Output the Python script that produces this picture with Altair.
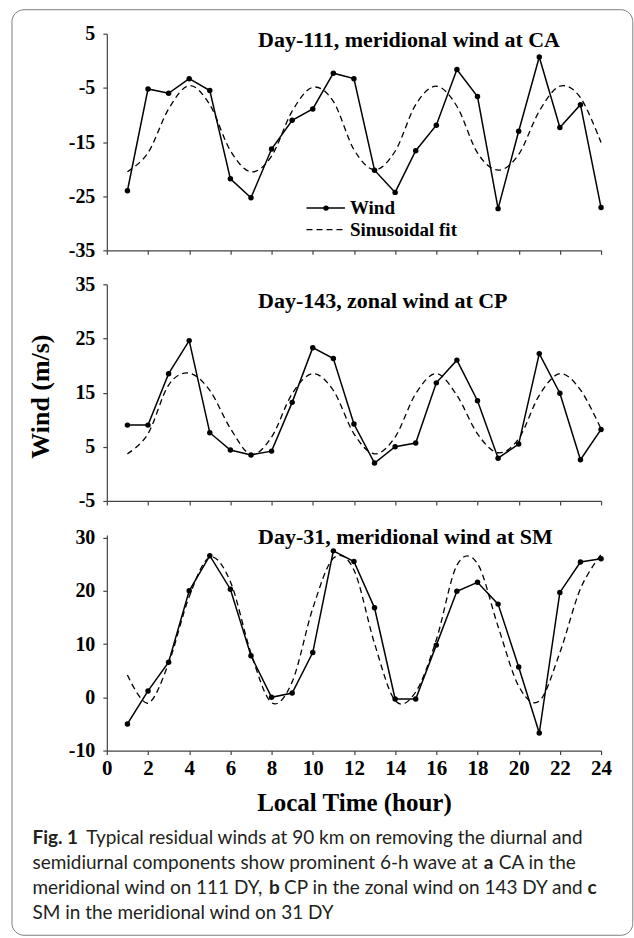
import altair as alt
import pandas as pd

# Local time (hour) of each hourly estimate
hours = list(range(1, 25))

# Day-111, meridional wind at CA (m/s)
ca_wind = [-24.0, -5.2, -6.0, -3.3, -5.5, -21.8, -25.3, -16.3, -11.0, -8.9, -2.3, -3.3,
           -20.2, -24.3, -16.6, -11.9, -1.6, -6.6, -27.3, -13.0, 0.7, -12.3, -8.1, -27.1]
ca_fit = [-20.5, -17.0, -8.9, -4.6, -8.1, -16.6, -20.5, -17.6, -9.3, -4.9, -7.5, -16.4,
          -20.1, -16.7, -8.1, -4.7, -8.4, -17.0, -20.2, -17.3, -9.3, -4.7, -6.8, -15.1]

# Day-143, zonal wind at CP (m/s)
cp_wind = [9.0, 9.0, 18.5, 24.6, 7.6, 4.4, 3.5, 4.2, 13.2, 23.3, 21.3, 9.2,
           2.0, 5.0, 5.7, 16.8, 21.0, 13.5, 2.9, 5.5, 22.2, 14.9, 2.6, 8.2]
cp_fit = [3.7, 7.4, 16.4, 18.6, 15.4, 8.4, 3.6, 6.8, 14.8, 18.5, 15.4, 7.4,
          3.7, 6.8, 14.8, 18.5, 14.5, 7.4, 3.9, 6.5, 14.5, 18.5, 15.5, 8.3]

# Day-31, meridional wind at SM (m/s)
sm_wind = [-5.0, 1.2, 6.6, 20.0, 26.6, 20.3, 7.8, 0.0, 0.8, 8.4, 27.5, 25.5,
           16.8, -0.3, -0.3, 9.8, 19.9, 21.6, 17.5, 5.7, -6.7, 19.7, 25.4, 26.0]
sm_fit = [4.2, -1.1, 6.4, 18.9, 26.3, 21.7, 8.3, -1.0, 2.9, 16.7, 26.1, 23.9,
          10.1, -0.6, 1.0, 10.8, 24.8, 25.1, 13.3, 2.1, -0.7, 8.4, 20.4, 26.8]

SERIF = "Liberation Serif"
SANS = "Lato"
INK = "#000000"
CAP_INK = "#231f20"
AXIS_INK = "#444444"
PLOT_W = 495
CAP_SIZE = 19


def one_row():
    return alt.Chart(alt.Data(values=[{}]))


def label_text(text, x, y, size, weight="bold", font=SERIF, align="left", color=INK):
    return one_row().mark_text(
        align=align, baseline="alphabetic", font=font, fontSize=size,
        fontWeight=weight, color=color,
    ).encode(x=alt.value(x), y=alt.value(y), text=alt.value(text))


def caption(text, x, y, bold=False):
    return label_text(text, x, y, CAP_SIZE, weight="bold" if bold else "normal",
                      font=SANS, color=CAP_INK)


# plain hyphen instead of the typographic minus sign
HYPHEN = "replace(datum.label, '\u2212', '-')"


def panel(wind, fit, y_domain, y_top_label, height, title, title_y,
          x_labels=False, y_title="", extra_layers=()):
    df = pd.DataFrame({"hour": hours, "wind": wind, "fit": fit})

    x_axis = dict(values=list(range(0, 25)), tickSize=4, labelFlush=False,
                  labelOverlap=False)
    if x_labels:
        x_axis.update(labels=True, labelPadding=3, labelFontSize=21,
                      labelExpr="datum.value % 2 == 0 ? datum.label : ''",
                      titleFontSize=25, titleBaseline="alphabetic", titleY=60)
        x_title = "Local Time (hour)"
    else:
        x_axis.update(labels=False)
        x_title = ""

    y_vals = list(range(int(y_domain[0]), int(y_domain[1]) + 1, 5))
    y_axis = dict(values=y_vals, tickSize=4, labelPadding=8, labelFlush=False,
                  labelOverlap=False, labelFontSize=20,
                  labelExpr=f"({y_top_label} - datum.value) % 10 == 0 ? {HYPHEN} : ''")
    if y_title:
        y_axis.update(titleFontSize=26, titleX=-66, titleY=112,
                      titleBaseline="middle", titleAngle=270)

    xs = alt.Scale(domain=[0, 24], nice=False, zero=False)
    ys = alt.Scale(domain=list(y_domain), nice=False, zero=False)

    base = alt.Chart(df)
    fit_line = base.mark_line(
        color=INK, strokeWidth=1.3, strokeDash=[6, 4], interpolate="cardinal"
    ).encode(
        x=alt.X("hour:Q", scale=xs, axis=alt.Axis(**x_axis), title=x_title),
        y=alt.Y("fit:Q", scale=ys, axis=alt.Axis(**y_axis), title=y_title),
    )
    wind_line = base.mark_line(color=INK, strokeWidth=1.5).encode(
        x=alt.X("hour:Q", scale=xs, title=x_title),
        y=alt.Y("wind:Q", scale=ys, title=y_title),
    )
    wind_pts = base.mark_point(filled=True, color=INK, size=30, opacity=1).encode(
        x=alt.X("hour:Q", scale=xs, title=x_title),
        y=alt.Y("wind:Q", scale=ys, title=y_title),
    )
    head = label_text(title, 151.5, title_y, 22)
    return alt.layer(*extra_layers, fit_line, wind_line, wind_pts, head).properties(
        width=PLOT_W, height=height
    )


# Rounded frame around the whole figure
frame = one_row().mark_rect(
    fillOpacity=0, stroke="#7d7d7d", strokeWidth=1, cornerRadius=12
).encode(x=alt.value(-95), x2=alt.value(526.8), y=alt.value(-24), y2=alt.value(903))

# Hand-drawn key in the first panel
key_line = one_row().mark_rule(color=INK, strokeWidth=1.5).encode(
    x=alt.value(200), x2=alt.value(238.5), y=alt.value(174.7))
key_dot = one_row().mark_point(filled=True, color=INK, size=30, opacity=1).encode(
    x=alt.value(219.5), y=alt.value(174.7))
key_dash = one_row().mark_rule(color=INK, strokeWidth=1.3, strokeDash=[6, 4]).encode(
    x=alt.value(200), x2=alt.value(240), y=alt.value(196.3))
key_wind = label_text("Wind", 243.5, 180.5, 19)
key_fit = label_text("Sinusoidal fit", 243.5, 203, 19)

# Figure caption under the last panel
cx = -74.5
cap = [
    caption("Fig. 1", cx, 310, bold=True),
    caption("Typical residual winds at 90 km on removing the diurnal and", cx + 54, 310),
    caption("semidiurnal components show prominent 6-h wave at", cx, 335),
    caption("a", cx + 452, 335, bold=True),
    caption("CA in the", cx + 467, 335),
    caption("meridional wind on 111 DY,", cx, 360),
    caption("b", cx + 237, 360, bold=True),
    caption("CP in the zonal wind on 143 DY and", cx + 252, 360),
    caption("c", cx + 556, 360, bold=True),
    caption("SM in the meridional wind on 31 DY", cx, 385),
]

p1 = panel(ca_wind, ca_fit, (-35, 5), 5, 217, "Day-111, meridional wind at CA", 13,
           extra_layers=(frame, key_line, key_dot, key_dash, key_wind, key_fit))
p2 = panel(cp_wind, cp_fit, (-5, 35), 35, 217, "Day-143, zonal wind at CP", 23.7,
           y_title="Wind (m/s)")
p3 = panel(sm_wind, sm_fit, (-10, 30.5), 30, 216, "Day-31, meridional wind at SM", 8.7,
           x_labels=True, extra_layers=tuple(cap))

chart = alt.vconcat(p1, p2, p3, spacing=34, bounds="flush").properties(
    padding={"left": 11, "top": 8, "right": 0, "bottom": 2},
    background="white",
).configure_view(strokeWidth=0).configure_axis(
    labelFont=SERIF, labelFontWeight="bold", labelFontSize=19, labelColor=INK,
    titleFont=SERIF, titleFontWeight="bold", titleColor=INK,
    domainColor=AXIS_INK, tickColor=AXIS_INK, domainWidth=1.2, tickWidth=1.2,
    grid=False,
)

chart.save("out.html", embed_options={"renderer": "svg", "actions": False})
